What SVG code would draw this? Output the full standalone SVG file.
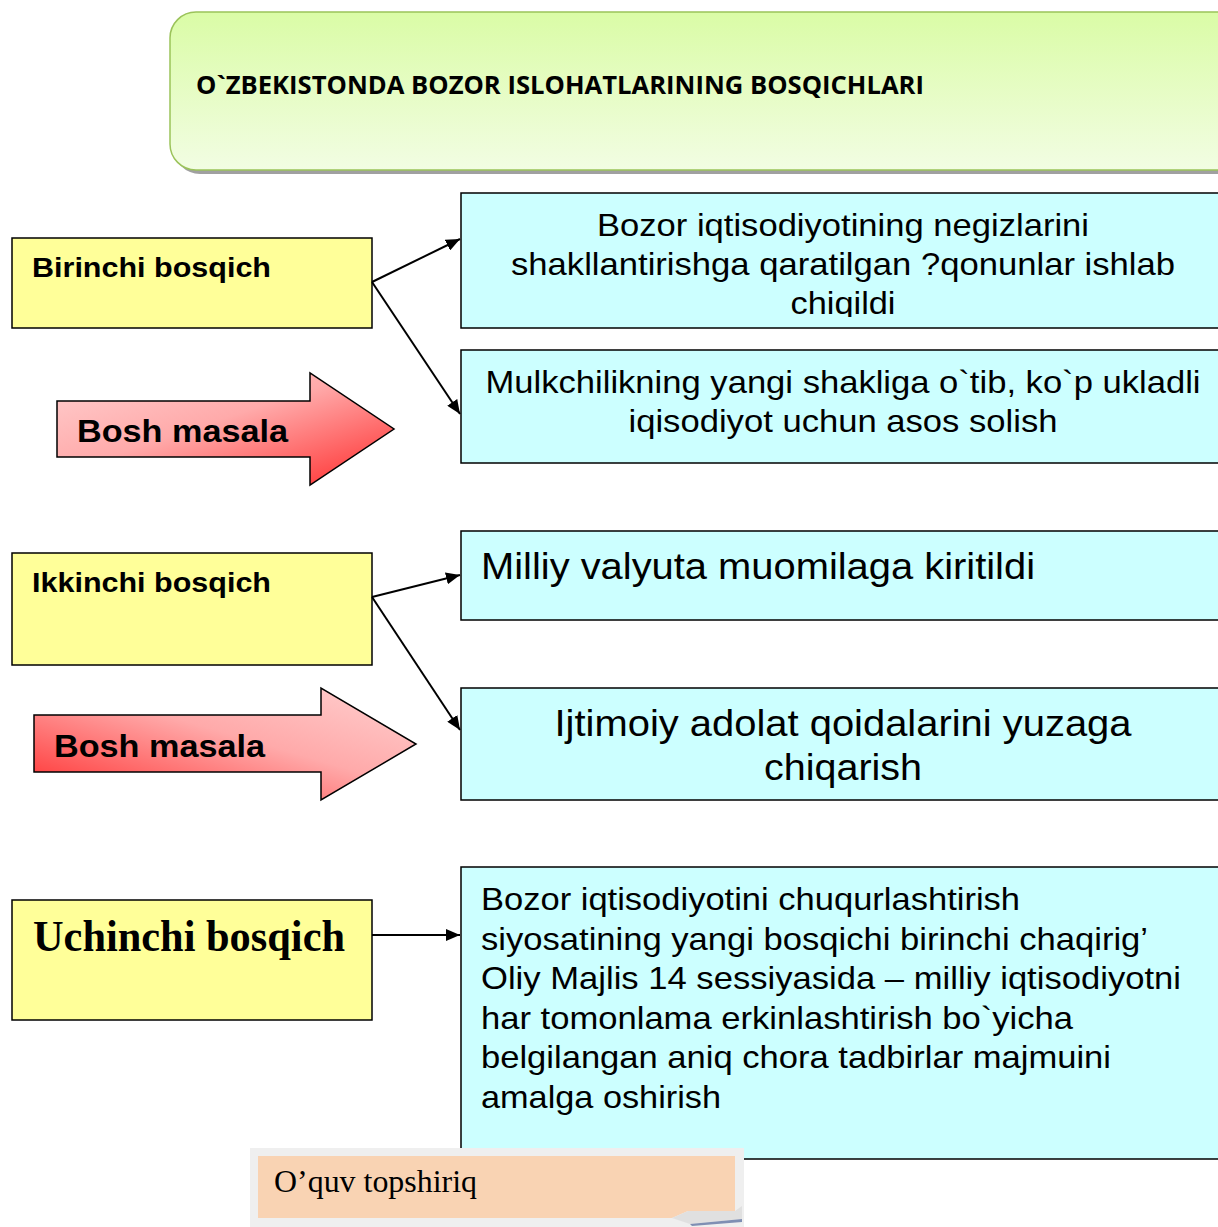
<svg xmlns="http://www.w3.org/2000/svg" width="1218" height="1227" viewBox="0 0 1218 1227">
<style>
.stage{fill:#ffff99;stroke:#000;stroke-width:1.5}
.info{fill:#ccffff;stroke:#000;stroke-width:1.5}
.sans{font-family:"Liberation Sans",Arial,sans-serif;fill:#000}
.b{font-weight:bold}
.serif{font-family:"Liberation Serif","Times New Roman",serif;fill:#000}
.conn{stroke:#000;stroke-width:2;fill:none}
</style>
<defs>
<linearGradient id="hdr" x1="0" y1="0" x2="0" y2="1">
<stop offset="0" stop-color="#dafca6"/>
<stop offset="1" stop-color="#f2fde3"/>
</linearGradient>
<linearGradient id="red1" x1="0" y1="0" x2="1" y2="1">
<stop offset="0" stop-color="#ffd0d0"/>
<stop offset="0.45" stop-color="#ffaaaa"/>
<stop offset="1" stop-color="#ff2a2a"/>
</linearGradient>
<linearGradient id="red2" x1="0" y1="1" x2="1" y2="0">
<stop offset="0" stop-color="#ff2a2a"/>
<stop offset="0.55" stop-color="#ffaaaa"/>
<stop offset="1" stop-color="#ffd0d0"/>
</linearGradient>
<marker id="ah" markerWidth="14" markerHeight="12" refX="14" refY="6" orient="auto" markerUnits="userSpaceOnUse">
<path d="M0,0 L14,6 L0,12 z" fill="#000"/>
</marker>
<clipPath id="clip1"><rect x="462" y="194" width="760" height="123"/></clipPath>
</defs>

<g id="header">
<rect x="174" y="16" width="1080" height="158" rx="26" fill="#a0a0a0"/>
<rect x="170" y="12" width="1080" height="158" rx="26" fill="url(#hdr)" stroke="#9bc35a" stroke-width="1.5"/>
<text x="196" y="94" class="b" font-family="'Open Sans','Liberation Sans',sans-serif" font-size="25" textLength="728" lengthAdjust="spacingAndGlyphs">O`ZBEKISTONDA BOZOR ISLOHATLARINING BOSQICHLARI</text>
</g>

<g id="stage1">
<rect class="stage" x="12" y="238" width="360" height="90"/>
<text class="sans b" x="32" y="277" font-size="27" textLength="239" lengthAdjust="spacingAndGlyphs">Birinchi bosqich</text>
</g>

<g id="info1">
<rect class="info" x="461" y="193" width="780" height="135"/>
<g clip-path="url(#clip1)" class="sans" font-size="32" text-anchor="middle">
<text x="843" y="236" textLength="492" lengthAdjust="spacingAndGlyphs">Bozor iqtisodiyotining negizlarini</text>
<text x="843" y="275" textLength="664" lengthAdjust="spacingAndGlyphs">shakllantirishga qaratilgan ?qonunlar ishlab</text>
<text x="843" y="314" textLength="105" lengthAdjust="spacingAndGlyphs">chiqildi</text>
</g>
</g>

<g id="info2">
<rect class="info" x="461" y="350" width="780" height="113"/>
<g class="sans" font-size="32" text-anchor="middle">
<text x="843" y="393" textLength="715" lengthAdjust="spacingAndGlyphs">Mulkchilikning yangi shakliga o`tib, ko`p ukladli</text>
<text x="843" y="432" textLength="429" lengthAdjust="spacingAndGlyphs">iqisodiyot uchun asos solish</text>
</g>
</g>

<g id="arrow1">
<path d="M57,401 L310,401 L310,373 L394,429 L310,485 L310,457 L57,457 Z" fill="url(#red1)" stroke="#000" stroke-width="1.5"/>
<text class="sans b" x="77" y="442" font-size="31" textLength="211" lengthAdjust="spacingAndGlyphs">Bosh masala</text>
</g>

<g id="stage2">
<rect class="stage" x="12" y="553" width="360" height="112"/>
<text class="sans b" x="32" y="592" font-size="27" textLength="239" lengthAdjust="spacingAndGlyphs">Ikkinchi bosqich</text>
</g>

<g id="info3">
<rect class="info" x="461" y="531" width="780" height="89"/>
<text class="sans" x="481" y="579" font-size="37" textLength="554" lengthAdjust="spacingAndGlyphs">Milliy valyuta muomilaga kiritildi</text>
</g>

<g id="info4">
<rect class="info" x="461" y="688" width="780" height="112"/>
<g class="sans" font-size="37" text-anchor="middle">
<text x="843" y="736" textLength="577" lengthAdjust="spacingAndGlyphs">Ijtimoiy adolat qoidalarini yuzaga</text>
<text x="843" y="780" textLength="158" lengthAdjust="spacingAndGlyphs">chiqarish</text>
</g>
</g>

<g id="arrow2">
<path d="M34,715 L321,715 L321,688 L416,744 L321,800 L321,772 L34,772 Z" fill="url(#red2)" stroke="#000" stroke-width="1.5"/>
<text class="sans b" x="54" y="757" font-size="31" textLength="211" lengthAdjust="spacingAndGlyphs">Bosh masala</text>
</g>

<g id="stage3">
<rect class="stage" x="12" y="900" width="360" height="120"/>
<text class="serif b" x="33" y="951" font-size="44" textLength="312" lengthAdjust="spacingAndGlyphs">Uchinchi bosqich</text>
</g>

<g id="info5">
<rect class="info" x="461" y="867" width="780" height="292"/>
<g class="sans" font-size="32">
<text x="481" y="910" textLength="539" lengthAdjust="spacingAndGlyphs">Bozor iqtisodiyotini chuqurlashtirish</text>
<text x="481" y="950" textLength="667" lengthAdjust="spacingAndGlyphs">siyosatining yangi bosqichi birinchi chaqirig’</text>
<text x="481" y="989" textLength="700" lengthAdjust="spacingAndGlyphs">Oliy Majlis 14 sessiyasida – milliy iqtisodiyotni</text>
<text x="481" y="1029" textLength="592" lengthAdjust="spacingAndGlyphs">har tomonlama erkinlashtirish bo`yicha</text>
<text x="481" y="1068" textLength="630" lengthAdjust="spacingAndGlyphs">belgilangan aniq chora tadbirlar majmuini</text>
<text x="481" y="1108" textLength="240" lengthAdjust="spacingAndGlyphs">amalga oshirish</text>
</g>
</g>

<g id="task">
<path d="M744,1150 L744,1222 L690,1226 L740,1214 Z" fill="#6b7fa8"/>
<rect x="250" y="1148" width="494" height="79" fill="#efefef"/>
<path d="M258,1156 L735,1156 L735,1211 L688,1211 L672,1218 L258,1218 Z" fill="#f9d3b3"/>
<path d="M672,1218 L688,1211 L735,1211 L742,1206 L742,1219 L690,1224 Z" fill="#e0e0e0"/>
<path d="M690,1224 L742,1219 L742,1222 L692,1226 Z" fill="#7f8fb3"/>
<text class="serif" x="274" y="1192" font-size="31" textLength="203" lengthAdjust="spacingAndGlyphs">O’quv topshiriq</text>
</g>

<g id="connectors">
<line class="conn" x1="372" y1="282" x2="460" y2="239" marker-end="url(#ah)"/>
<line class="conn" x1="372" y1="282" x2="460" y2="414" marker-end="url(#ah)"/>
<line class="conn" x1="372" y1="597" x2="460" y2="575" marker-end="url(#ah)"/>
<line class="conn" x1="372" y1="597" x2="460" y2="730" marker-end="url(#ah)"/>
<line class="conn" x1="372" y1="935" x2="460" y2="935" marker-end="url(#ah)"/>
</g>
</svg>
